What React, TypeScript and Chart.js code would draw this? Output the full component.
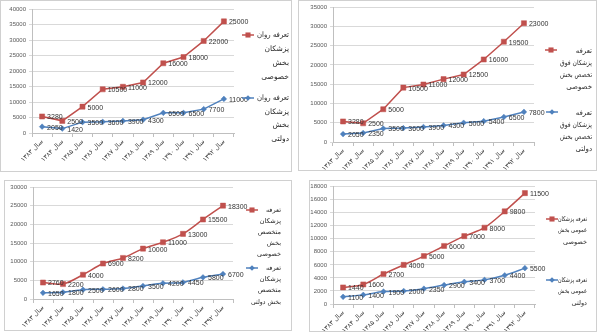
import React, { useEffect, useRef } from "react";
import { Chart, registerables } from "chart.js";

Chart.register(...registerables);

// ---------- DATA ----------
const years = [
  "سال ۱۳۸۳", "سال ۱۳۸۴", "سال ۱۳۸۵", "سال ۱۳۸۶", "سال ۱۳۸۷",
  "سال ۱۳۸۸", "سال ۱۳۸۹", "سال ۱۳۹۰", "سال ۱۳۹۱", "سال ۱۳۹۲",
];

// Chart 1: psychiatrists
const psychPrivate = [3280, 2500, 5000, 10500, 11000, 12000, 16000, 18000, 22000, 25000];
const psychPublic = [2050, 1420, 3500, 3600, 3900, 4300, 6500, 6500, 7700, 11000];
// Chart 2: sub-specialists
const subPrivate = [3280, 2500, 5000, 10500, 11000, 12000, 12500, 16000, 19500, 23000];
const subPublic = [2050, 2350, 3500, 3600, 3900, 4300, 5000, 5400, 6500, 7800];
// Chart 3: specialists
const specPrivate = [2760, 2200, 4000, 6900, 8200, 10000, 11000, 13000, 15500, 18300];
const specPublic = [1650, 1800, 2500, 2600, 2800, 3500, 4200, 4450, 5800, 6700];
// Chart 4: general practitioners
const genPrivate = [1440, 1600, 2700, 4000, 5000, 6000, 7000, 8000, 9800, 11500];
const genPublic = [1100, 1400, 1900, 2000, 2350, 2900, 3400, 3700, 4400, 5500];

// axis ranges
const yMaxes = [40000, 35000, 30000, 18000];
const ySteps = [5000, 5000, 5000, 2000];

// legend texts
const psychPrivateName = ["تعرفه روان", "پزشکان", "بخش", "خصوصی"];
const psychPublicName = ["تعرفه روان", "پزشکان", "بخش", "دولتی"];
const subPrivateName = ["تعرفه", "پزشکان فوق", "تخصص بخش", "خصوصی"];
const subPublicName = ["تعرفه", "پزشکان فوق", "تخصص بخش", "دولتی"];
const specPrivateName = ["تعرفه", "پزشکان", "متخصص", "بخش", "خصوصی"];
const specPublicName = ["تعرفه", "پزشکان", "متخصص", "بخش دولتی"];
const genPrivateName = ["تعرفه پزشکان", "عمومی بخش", "خصوصی"];
const genPublicName = ["تعرفه پزشکان", "عمومی بخش", "دولتی"];

// ---------- STYLE ----------
const RED = "#C0504D";
const BLUE = "#4F81BD";
const PERSIAN_FONT = '"DejaVu Sans", sans-serif';
const NUM_FONT = '"Liberation Sans", Arial, sans-serif';

const valueLabels = {
  id: "valueLabels",
  afterDatasetsDraw(chart: any) {
    const ctx = chart.ctx;
    ctx.save();
    ctx.font = `7px ${NUM_FONT}`;
    ctx.fillStyle = "#333333";
    ctx.textBaseline = "middle";
    ctx.textAlign = "left";
    chart.data.datasets.forEach((ds: any, i: number) => {
      const meta = chart.getDatasetMeta(i);
      meta.data.forEach((pt: any, j: number) => {
        ctx.fillText(String(ds.data[j]), pt.x + 5, pt.y + 1);
      });
    });
    ctx.restore();
  },
};

const sideLegend = {
  id: "sideLegend",
  afterDraw(chart: any, _args: any, opts: any) {
    if (!opts || !opts.items) return;
    const ctx = chart.ctx;
    opts.items.forEach((it: any) => {
      const ds = chart.data.datasets[it.ds];
      ctx.save();
      ctx.strokeStyle = ds.borderColor;
      ctx.lineWidth = 1.5;
      ctx.beginPath();
      ctx.moveTo(it.mx - 6, it.my);
      ctx.lineTo(it.mx + 6, it.my);
      ctx.stroke();
      ctx.fillStyle = ds.backgroundColor;
      if (ds.pointStyle === "rect") {
        const s = ds.pointRadius * Math.SQRT1_2;
        ctx.fillRect(it.mx - s, it.my - s, 2 * s, 2 * s);
      } else {
        const r = ds.pointRadius;
        ctx.beginPath();
        ctx.moveTo(it.mx, it.my - r);
        ctx.lineTo(it.mx + r, it.my);
        ctx.lineTo(it.mx, it.my + r);
        ctx.lineTo(it.mx - r, it.my);
        ctx.closePath();
        ctx.fill();
      }
      ctx.font = `${opts.fontSize}px ${PERSIAN_FONT}`;
      ctx.fillStyle = "#262626";
      ctx.textAlign = "right";
      ctx.textBaseline = "middle";
      ctx.direction = "rtl";
      it.lines.forEach((ln: string, k: number) => {
        ctx.fillText(ln, it.tx, it.ty + k * it.lh, opts.maxWidth);
      });
      ctx.restore();
    });
  },
};

type PanelCfg = {
  box: { x: number; y: number; w: number; h: number };
  area: { l: number; t: number; r: number; b: number };
  priv: number[];
  pub: number[];
  yMax: number;
  yStep: number;
  tension: number;
  legendFont: number;
  legendMax: number;
  legend: any[];
};

const panels: PanelCfg[] = [
  {
    box: { x: 0, y: 0, w: 292, h: 172 },
    area: { l: 32, t: 9, r: 234, b: 133 },
    priv: psychPrivate,
    pub: psychPublic,
    yMax: yMaxes[0],
    yStep: ySteps[0],
    tension: 0,
    legendFont: 7.5,
    legendMax: 32,
    legend: [
      { ds: 1, mx: 248, my: 35, tx: 289, ty: 35, lh: 14, lines: psychPrivateName },
      { ds: 0, mx: 248, my: 98, tx: 289, ty: 98, lh: 13.7, lines: psychPublicName },
    ],
  },
  {
    box: { x: 298, y: 0, w: 299, h: 171 },
    area: { l: 333, t: 7, r: 534, b: 142 },
    priv: subPrivate,
    pub: subPublic,
    yMax: yMaxes[1],
    yStep: ySteps[1],
    tension: 0,
    legendFont: 7,
    legendMax: 32,
    legend: [
      { ds: 1, mx: 551, my: 50, tx: 592, ty: 51, lh: 12, lines: subPrivateName },
      { ds: 0, mx: 552, my: 112, tx: 592, ty: 113, lh: 12.2, lines: subPublicName },
    ],
  },
  {
    box: { x: 4, y: 180, w: 288, h: 151 },
    area: { l: 33, t: 187, r: 233, b: 299 },
    priv: specPrivate,
    pub: specPublic,
    yMax: yMaxes[2],
    yStep: ySteps[2],
    tension: 0.3,
    legendFont: 6.5,
    legendMax: 30,
    legend: [
      { ds: 1, mx: 252, my: 210, tx: 281, ty: 210, lh: 11, lines: specPrivateName },
      { ds: 0, mx: 252, my: 268, tx: 281, ty: 268, lh: 11.3, lines: specPublicName },
    ],
  },
  {
    box: { x: 309, y: 180, w: 288, h: 152 },
    area: { l: 333, t: 184, r: 535, b: 304 },
    priv: genPrivate,
    pub: genPublic,
    yMax: yMaxes[3],
    yStep: ySteps[3],
    tension: 0.3,
    legendFont: 6.5,
    legendMax: 29,
    legend: [
      { ds: 1, mx: 552, my: 219, tx: 587, ty: 219, lh: 11.7, lines: genPrivateName },
      { ds: 0, mx: 552, my: 280, tx: 587, ty: 280, lh: 11.5, lines: genPublicName },
    ],
  },
];

function Panel({ cfg }: { cfg: PanelCfg }) {
  const ref = useRef<HTMLCanvasElement>(null);
  const { box, area } = cfg;
  useEffect(() => {
    if (!ref.current) return;
    const yWidth = area.l - box.x;
    const xHeight = box.y + box.h - area.b;
    const legendItems = cfg.legend.map((it) => ({
      ...it,
      mx: it.mx - box.x,
      my: it.my - box.y,
      tx: it.tx - box.x,
      ty: it.ty - box.y,
    }));
    const chart = new Chart(ref.current, {
      type: "line",
      data: {
        labels: years,
        datasets: [
          {
            data: cfg.pub,
            borderColor: BLUE,
            backgroundColor: BLUE,
            pointStyle: "rectRot",
            pointRadius: 2.8,
            pointBorderWidth: 0.5,
            borderWidth: 1.5,
            tension: cfg.tension,
            fill: false,
          },
          {
            data: cfg.priv,
            borderColor: RED,
            backgroundColor: RED,
            pointStyle: "rect",
            pointRadius: 3.6,
            pointBorderWidth: 0.5,
            borderWidth: 1.5,
            tension: cfg.tension,
            fill: false,
          },
        ],
      } as any,
      options: {
        animation: false,
        responsive: false,
        devicePixelRatio: 1,
        layout: {
          padding: {
            left: 0,
            top: area.t - box.y,
            right: box.x + box.w - area.r,
            bottom: 0,
          },
        },
        plugins: {
          legend: { display: false },
          tooltip: { enabled: false },
          sideLegend: { items: legendItems, fontSize: cfg.legendFont, maxWidth: cfg.legendMax },
        } as any,
        scales: {
          x: {
            type: "category",
            offset: true,
            grid: {
              display: true,
              drawOnChartArea: false,
              drawTicks: true,
              tickLength: 4,
              color: "#bfbfbf",
              offset: true,
            },
            border: { display: true, color: "#bfbfbf" },
            ticks: {
              autoSkip: false,
              maxRotation: 45,
              minRotation: 45,
              padding: 1,
              color: "#404040",
              font: { size: 6.5, family: PERSIAN_FONT },
            },
            afterFit: (s: any) => {
              s.height = xHeight;
            },
          },
          y: {
            stacked: true,
            min: 0,
            max: cfg.yMax,
            grid: { color: "#d9d9d9", tickLength: 3 },
            border: { display: true, color: "#bfbfbf" },
            ticks: {
              stepSize: cfg.yStep,
              padding: 3,
              color: "#595959",
              font: { size: 6, family: NUM_FONT },
              callback: (v: any) => String(v),
            },
            afterFit: (s: any) => {
              s.width = yWidth;
            },
          },
        } as any,
      },
      plugins: [valueLabels, sideLegend] as any,
    });
    return () => chart.destroy();
  }, []);
  return (
    <>
      <canvas
        ref={ref}
        width={box.w}
        height={box.h}
        style={{ position: "absolute", left: box.x, top: box.y, width: box.w, height: box.h }}
      />
      <div
        style={{
          position: "absolute",
          left: box.x,
          top: box.y,
          width: box.w,
          height: box.h,
          border: "1px solid #d0d0d0",
          boxSizing: "border-box",
          pointerEvents: "none",
        }}
      />
    </>
  );
}

export default function App() {
  return (
    <div
      style={{
        position: "fixed",
        left: 0,
        top: 0,
        width: 600,
        height: 334,
        background: "#ffffff",
        overflow: "hidden",
      }}
    >
      {panels.map((p, i) => (
        <Panel key={i} cfg={p} />
      ))}
    </div>
  );
}
